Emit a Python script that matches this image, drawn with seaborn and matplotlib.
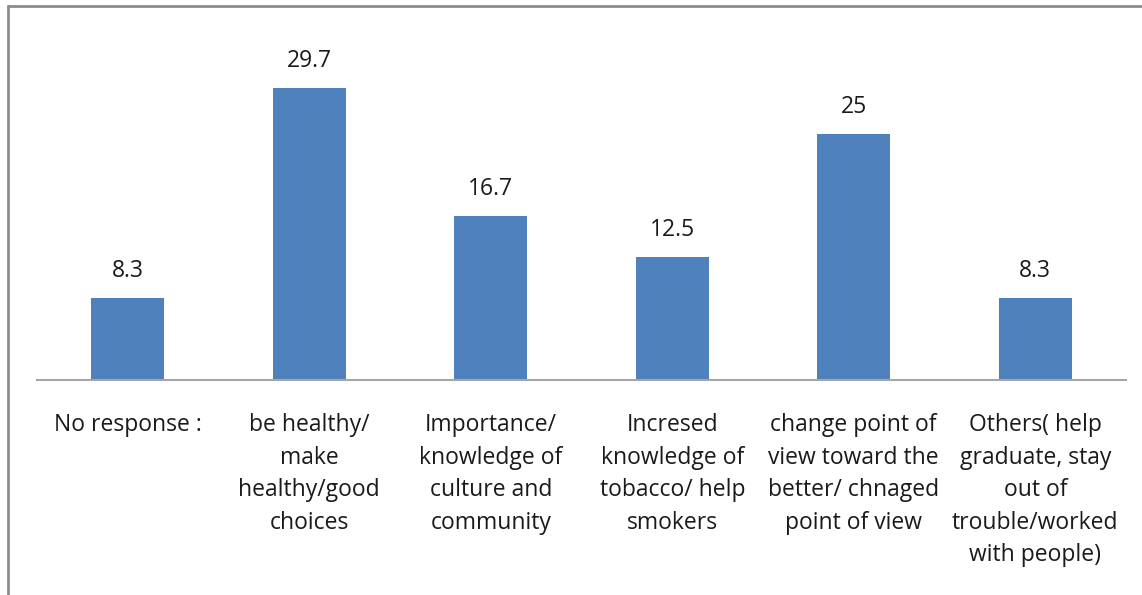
import matplotlib
matplotlib.use("Agg")
import matplotlib.pyplot as plt
import seaborn as sns
import pandas as pd
from matplotlib.lines import Line2D

categories = [
    "No response :",
    "be healthy/\nmake\nhealthy/good\nchoices",
    "Importance/\nknowledge of\nculture and\ncommunity",
    "Incresed\nknowledge of\ntobacco/ help\nsmokers",
    "change point of\nview toward the\nbetter/ chnaged\npoint of view",
    "Others( help\ngraduate, stay\nout of\ntrouble/worked\nwith people)",
]
values = [8.3, 29.7, 16.7, 12.5, 25, 8.3]
value_labels = ["8.3", "29.7", "16.7", "12.5", "25", "8.3"]

sns.set_theme(style="white")
plt.rcParams["font.family"] = ["Open Sans", "DejaVu Sans"]

W, H = 1142, 595
fig = plt.figure(figsize=(W / 100, H / 100), dpi=100)
ax = fig.add_axes([37 / W, (H - 380) / H, (1126 - 37) / W, (380 - 36) / H])

df = pd.DataFrame({"cat": categories, "val": values})
sns.barplot(data=df, x="cat", y="val", color="#4F81BD", width=0.4,
            saturation=1, ax=ax, edgecolor="none")

ax.set_xlim(-0.5, 5.5)
ax.set_ylim(0, 35)
ax.set_xlabel("")
ax.set_ylabel("")
ax.set_yticks([])
for s in ["top", "right", "left"]:
    ax.spines[s].set_visible(False)
ax.spines["bottom"].set_color("#A6A6A6")
ax.spines["bottom"].set_linewidth(1.5)

ax.tick_params(axis="x", length=0, pad=24)
ax.set_xticks(range(len(categories)))
ax.set_xticklabels(categories, fontsize=16.5, color="#1a1a1a",
                   linespacing=1.47, va="top")

for i, (v, lab) in enumerate(zip(values, value_labels)):
    ax.annotate(lab, (i, v), xytext=(0, 19.5), textcoords="offset points",
                ha="center", va="center", fontsize=16.5, color="#1a1a1a")

# outer frame of the chart area
fig.add_artist(Line2D([8 / W, 8 / W], [0, 1 - 6 / H], transform=fig.transFigure,
                      color="#8C8C8C", lw=2))
fig.add_artist(Line2D([8 / W, 1], [1 - 6 / H, 1 - 6 / H], transform=fig.transFigure,
                      color="#8C8C8C", lw=2))

fig.savefig("out.png", dpi=100, facecolor="white")
